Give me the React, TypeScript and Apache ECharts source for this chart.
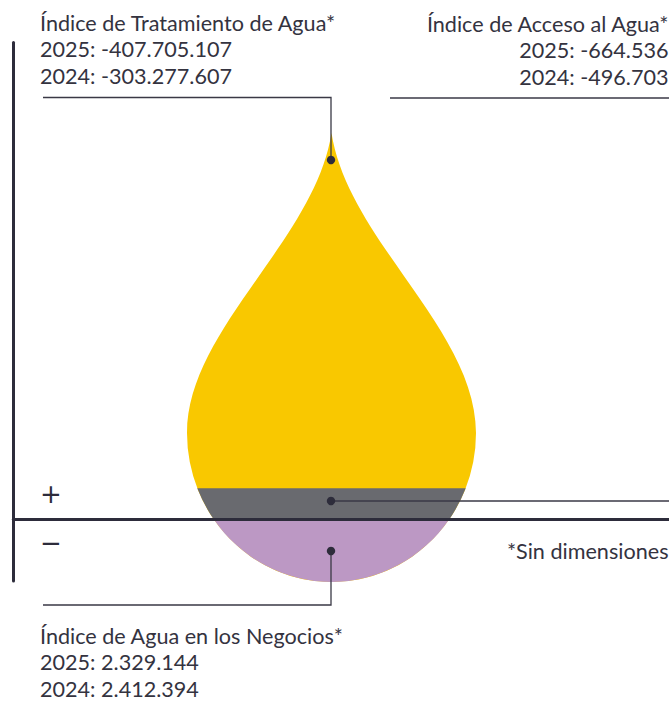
import React, { useEffect, useRef } from "react";
import * as echarts from "echarts";

// ---- data ----
const indexNames = [
  "Índice de Tratamiento de Agua*",
  "Índice de Acceso al Agua*",
  "Índice de Agua en los Negocios*",
];
const values2025 = [-407705107, -664536, 2329144];
const values2024 = [-303277607, -496703, 2412394];
const yearLabels = ["2025", "2024"];
const signLabels = ["+", "−"];
const footnote = "*Sin dimensiones";

function fmt(n: number): string {
  const s = Math.abs(n)
    .toString()
    .replace(/\B(?=(\d{3})+(?!\d))/g, ".");
  return (n < 0 ? "-" : "") + s;
}

// ---- layout ----
const W = 669;
const H = 702;
const FONT = "Lato, 'Open Sans', sans-serif";
const TEXT = "#34333f";
const DARK = "#2d2c3b";
const YELLOW = "#f9c800";
const GREY = "#696a6f";
const PURPLE = "#bc98c4";

const axisX = 13.3;
const axisTop = 42.5;
const axisBottom = 581;
const axisY = 519;

const cx = 331.5;
const tipY = 133;
const bulgeY = 433;
const rx = 144.5;
const ry = 149;
const greyTop = 488.3;

function halfW(y: number) {
  const d = (y - bulgeY) / ry;
  return rx * Math.sqrt(Math.max(0, 1 - d * d));
}

function dropPath() {
  return (
    `M${cx} ${tipY} C${cx - 16.5} 240 ${cx - rx} 330 ${cx - rx} ${bulgeY} ` +
    `A${rx} ${ry} 0 0 0 ${cx + rx} ${bulgeY} ` +
    `C${cx + rx} 330 ${cx + 16.5} 240 ${cx} ${tipY} Z`
  );
}
function greyPath() {
  const h1 = halfW(greyTop);
  const h2 = halfW(axisY);
  return (
    `M${cx - h1} ${greyTop} L${cx + h1} ${greyTop} ` +
    `A${rx} ${ry} 0 0 1 ${cx + h2} ${axisY} L${cx - h2} ${axisY} ` +
    `A${rx} ${ry} 0 0 1 ${cx - h1} ${greyTop} Z`
  );
}
function purplePath() {
  const h2 = halfW(axisY);
  return (
    `M${cx - h2} ${axisY} L${cx + h2} ${axisY} ` +
    `A${rx} ${ry} 0 0 1 ${cx - h2} ${axisY} Z`
  );
}

export default function App() {
  const ref = useRef<HTMLDivElement>(null);

  useEffect(() => {
    if (!ref.current) return;
    echarts.graphic.registerShape("dropShape", echarts.graphic.extendPath(dropPath(), {}));
    echarts.graphic.registerShape("greyBand", echarts.graphic.extendPath(greyPath(), {}));
    echarts.graphic.registerShape("purpleBand", echarts.graphic.extendPath(purplePath(), {}));

    const chart = echarts.init(ref.current, undefined, { renderer: "svg" });

    const lineStyle = { stroke: "#3a3946", lineWidth: 1.3, fill: null as any };
    const dotStyle = { fill: DARK };
    const dotR = 4.2;
    const fs = 21.6;
    const lineGap = 26.5;

    const textEl = (text: string, x: number, y: number, align: string) => ({
      type: "text",
      x,
      y,
      z: 20,
      style: {
        text,
        fill: TEXT,
        fontSize: fs,
        fontFamily: FONT,
        align,
        verticalAlign: "middle",
      },
    });

    const blocks = [
      { x: 40, y: 22.5, align: "left" },
      { x: 668.5, y: 23.5, align: "right" },
      { x: 40, y: 635.5, align: "left" },
    ];
    const texts: any[] = [];
    indexNames.forEach((name, i) => {
      const b = blocks[i];
      texts.push(textEl(name, b.x, b.y, b.align));
      texts.push(textEl(`${yearLabels[0]}: ${fmt(values2025[i])}`, b.x, b.y + lineGap, b.align));
      texts.push(textEl(`${yearLabels[1]}: ${fmt(values2024[i])}`, b.x, b.y + lineGap * 2, b.align));
    });

    const yMax = axisY - axisTop;
    const yMin = axisY - axisBottom;

    const signStyle = (t: string) => ({
      text: t,
      fill: DARK,
      fontSize: 26,
      fontFamily: "'DejaVu Sans', sans-serif",
      align: "center",
      verticalAlign: "middle",
    });

    chart.setOption({
      animation: false,
      grid: { left: axisX, right: 0, top: axisTop, bottom: H - axisBottom, containLabel: false },
      xAxis: {
        type: "value",
        min: 0,
        max: W - axisX,
        z: 10,
        axisLine: { show: true, onZero: true, lineStyle: { color: DARK, width: 3 } },
        axisTick: { show: false },
        axisLabel: { show: false },
        splitLine: { show: false },
      },
      yAxis: {
        type: "value",
        min: yMin,
        max: yMax,
        z: 10,
        axisLine: { show: true, onZero: false, lineStyle: { color: DARK, width: 3 } },
        axisTick: { show: false },
        axisLabel: { show: false },
        splitLine: { show: false },
      },
      series: [],
      graphic: [
        { type: "dropShape", x: 0, y: 0, z: 1, style: { fill: YELLOW } },
        { type: "greyBand", x: 0, y: 0, z: 2, style: { fill: GREY } },
        { type: "purpleBand", x: 0, y: 0, z: 2, style: { fill: PURPLE } },
        {
          type: "polyline",
          z: 15,
          shape: { points: [[43, 97.5], [331, 97.5], [331, 160]] },
          style: lineStyle,
        },
        { type: "line", z: 15, shape: { x1: 390, y1: 98, x2: 669, y2: 98 }, style: lineStyle },
        { type: "line", z: 15, shape: { x1: 331, y1: 501, x2: 669, y2: 501 }, style: lineStyle },
        {
          type: "polyline",
          z: 15,
          shape: { points: [[331, 551], [331, 605], [43, 605]] },
          style: lineStyle,
        },
        { type: "circle", z: 16, shape: { cx: 331, cy: 160, r: dotR }, style: dotStyle },
        { type: "circle", z: 16, shape: { cx: 331, cy: 501, r: dotR }, style: dotStyle },
        { type: "circle", z: 16, shape: { cx: 331, cy: 551, r: dotR }, style: dotStyle },
        { type: "text", x: 51, y: 494, z: 20, style: signStyle(signLabels[0]) },
        { type: "text", x: 51, y: 543, z: 20, style: signStyle(signLabels[1]) },
        textEl(footnote, 668.5, 551, "right"),
        ...texts,
      ],
    });

    return () => chart.dispose();
  }, []);

  return (
    <div
      ref={ref}
      style={{ position: "absolute", left: 0, top: 0, width: W, height: H, background: "#fff" }}
    />
  );
}
